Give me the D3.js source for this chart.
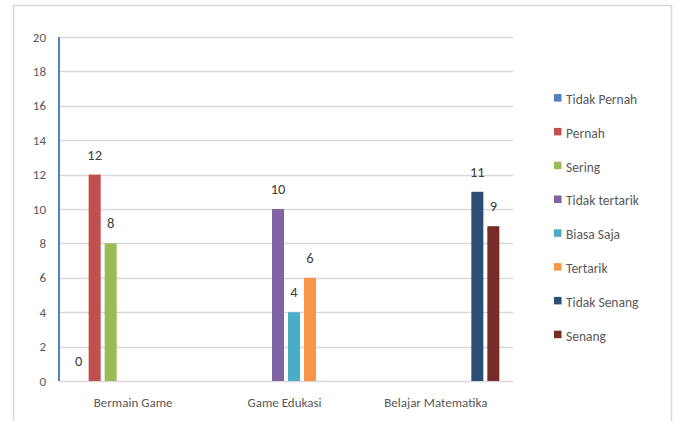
<!DOCTYPE html>
<html><head><meta charset="utf-8">
<script src="https://cdn.jsdelivr.net/npm/d3@7"></script>
<style>body{margin:0;background:#fff}svg{display:block}</style>
</head><body>
<svg id="c" width="676" height="421"></svg>
<script>
const categories = ["Bermain Game", "Game Edukasi", "Belajar Matematika"];
const seriesNames = ["Tidak Pernah", "Pernah", "Sering", "Tidak tertarik", "Biasa Saja", "Tertarik", "Tidak Senang", "Senang"];
const seriesColors = ["#4F81BD", "#C0504D", "#9BBB59", "#8064A2", "#4BACC6", "#F79646", "#2C4D75", "#772C2A"];
const tidakPernah = [0, null, null];
const pernah = [12, null, null];
const sering = [8, null, null];
const tidakTertarik = [null, 10, null];
const biasaSaja = [null, 4, null];
const tertarik = [null, 6, null];
const tidakSenang = [null, null, 11];
const senang = [null, null, 9];
const yTicks = [0, 2, 4, 6, 8, 10, 12, 14, 16, 18, 20];

(function () {
const seriesValues = [tidakPernah, pernah, sering, tidakTertarik, biasaSaja, tertarik, tidakSenang, senang];

const svg = d3.select("#c");
const font = "Calibri, Carlito, Lato, 'Open Sans', sans-serif";

// outer border
svg.append("rect").attr("x", 13.5).attr("y", 5.5).attr("width", 658).attr("height", 430)
  .attr("fill", "none").attr("stroke", "#D9D9D9").attr("stroke-width", 1.5);

const pLeft = 59, pRight = 513, pTop = 37, pBottom = 381;
const y = d3.scaleLinear().domain([0, 20]).range([pBottom, pTop]);
const x0 = d3.scaleBand().domain(categories).range([pLeft, pRight]).padding(0);
const x1 = d3.scaleBand().domain(seriesNames).range([0, x0.bandwidth()])
  .paddingInner(0.25).paddingOuter(0.854);

// gridlines
svg.append("g").selectAll("line").data(yTicks).join("line")
  .attr("x1", pLeft).attr("x2", pRight)
  .attr("y1", d => Math.round(y(d)) + 0.5).attr("y2", d => Math.round(y(d)) + 0.5)
  .attr("stroke", "#D9D9D9").attr("stroke-width", 1.5);

// y tick labels
svg.append("g").selectAll("text").data(yTicks).join("text")
  .attr("x", 46).attr("y", d => y(d)).attr("dy", "0.35em")
  .attr("text-anchor", "end").attr("font-family", font).attr("font-size", 13)
  .attr("fill", "#595959").text(d => d);

// bars
const barData = [];
seriesNames.forEach((s, si) => {
  categories.forEach((c, ci) => {
    const v = seriesValues[si][ci];
    if (v !== null) barData.push({ s, c, v, color: seriesColors[si] });
  });
});
svg.append("g").selectAll("rect").data(barData).join("rect")
  .attr("x", d => x0(d.c) + x1(d.s))
  .attr("width", x1.bandwidth())
  .attr("y", d => y(d.v))
  .attr("height", d => y(0) - y(d.v))
  .attr("fill", d => d.color);

// data labels
svg.append("g").selectAll("text").data(barData).join("text")
  .attr("x", d => x0(d.c) + x1(d.s) + x1.bandwidth() / 2)
  .attr("y", d => y(d.v) - 20).attr("dy", "0.35em")
  .attr("text-anchor", "middle").attr("font-family", font).attr("font-size", 14.5)
  .attr("fill", "#404040").text(d => d.v);

// y axis line
svg.append("line").attr("x1", pLeft).attr("x2", pLeft).attr("y1", pTop).attr("y2", pBottom)
  .attr("stroke", "#4F81BD").attr("stroke-width", 2);

// category labels
svg.append("g").selectAll("text").data(categories).join("text")
  .attr("x", d => x0(d) + x0.bandwidth() / 2 - 1.5).attr("y", 402).attr("dy", "0.35em")
  .attr("text-anchor", "middle").attr("font-family", font).attr("font-size", 13)
  .attr("fill", "#595959").text(d => d);

// legend
const legendY = d3.scalePoint().domain(seriesNames).range([97.8, 334.4]);
const lg = svg.append("g").selectAll("g").data(seriesNames).join("g")
  .attr("transform", d => `translate(554,${legendY(d)})`);
lg.append("rect").attr("x", 0).attr("y", -3.7).attr("width", 7.5).attr("height", 7.5)
  .attr("fill", (d, i) => seriesColors[i]);
lg.append("text").attr("x", 12).attr("y", 1.5).attr("dy", "0.35em")
  .attr("font-family", font).attr("font-size", 13.5).attr("fill", "#595959").text(d => d);
})();
</script>
</body></html>
